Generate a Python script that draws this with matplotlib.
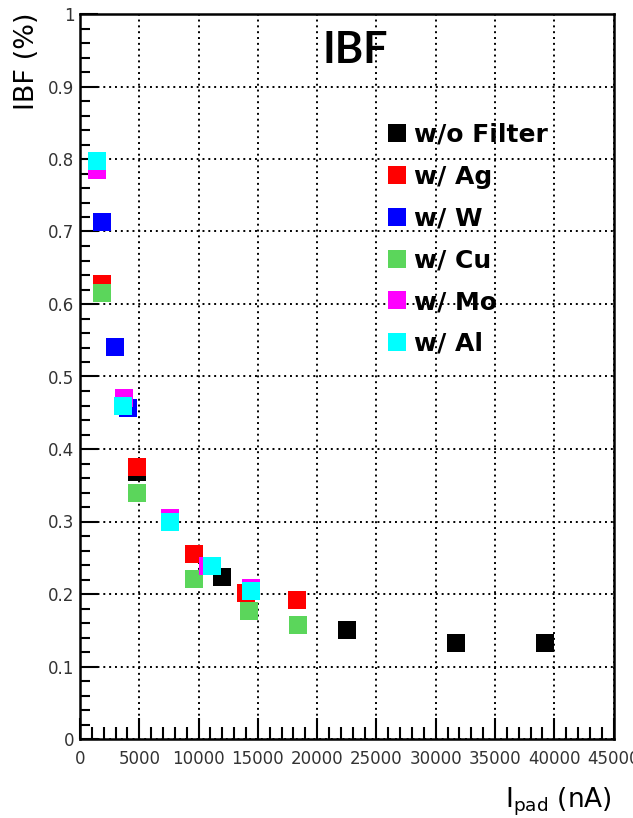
import matplotlib
matplotlib.use("Agg")
import matplotlib.pyplot as plt
from matplotlib.ticker import MultipleLocator, FuncFormatter

# IBF (%) versus pad current, for each X-ray filter
series_names = ["w/o Filter", "w/ Ag", "w/ W", "w/ Cu", "w/ Mo", "w/ Al"]
series_colors = ["#000000", "#ff0000", "#0000ff", "#5bd65b", "#ff00ff", "#00ffff"]

nofilter_x = [4810, 11980, 22520, 31720, 39200]
nofilter_y = [0.368, 0.223, 0.150, 0.133, 0.133]

ag_x = [1860, 4810, 9620, 14000, 18300]
ag_y = [0.627, 0.375, 0.255, 0.202, 0.192]

w_x = [1860, 2950, 4050]
w_y = [0.713, 0.541, 0.456]

cu_x = [1860, 4810, 9620, 14260, 18390]
cu_y = [0.615, 0.340, 0.221, 0.177, 0.157]

mo_x = [1430, 3710, 7590, 10800, 14420]
mo_y = [0.785, 0.470, 0.305, 0.238, 0.208]

al_x = [1430, 3630, 7590, 11130, 14420]
al_y = [0.797, 0.460, 0.300, 0.239, 0.204]

all_x = [nofilter_x, ag_x, w_x, cu_x, mo_x, al_x]
all_y = [nofilter_y, ag_y, w_y, cu_y, mo_y, al_y]

W, H = 633, 818
fig = plt.figure(figsize=(W / 100, H / 100), dpi=100)
ax = fig.add_axes([80 / W, 1 - 739 / H, (613.5 - 80) / W, (739 - 14) / H])

for xs, ys, name, col in zip(all_x, all_y, series_names, series_colors):
    ax.plot(xs, ys, ls="none", marker="s", ms=13, mew=0, color=col, label=name)

ax.set_xlim(0, 45000)
ax.set_ylim(0, 1)

ax.xaxis.set_major_locator(MultipleLocator(5000))
ax.xaxis.set_minor_locator(MultipleLocator(1000))
ax.yaxis.set_major_locator(MultipleLocator(0.1))
ax.yaxis.set_minor_locator(MultipleLocator(0.02))
ax.xaxis.set_major_formatter(FuncFormatter(lambda v, p: "%g" % v))
ax.yaxis.set_major_formatter(FuncFormatter(lambda v, p: "%g" % round(v, 2)))

ax.tick_params(axis="both", which="both", direction="in", width=1.5,
               colors="black", labelcolor="#333333", labelsize=12)
ax.tick_params(axis="x", which="major", length=15, pad=8)
ax.tick_params(axis="x", which="minor", length=8.6)
ax.tick_params(axis="y", which="major", length=13, pad=4)
ax.tick_params(axis="y", which="minor", length=7.2)

for sp in ax.spines.values():
    sp.set_linewidth(1.8)

ax.grid(True, which="major", color="black", linestyle=(0, (1, 2)), linewidth=1.4)
ax.set_axisbelow(True)

leg = ax.legend(loc="upper left", bbox_to_anchor=(387 / W, 1 - 123 / H),
                bbox_transform=fig.transFigure, frameon=False,
                prop={"weight": "bold", "size": 18}, handlelength=0.8,
                handletextpad=0.3, labelspacing=0.71, borderpad=0,
                borderaxespad=0, numpoints=1)

fig.text(355 / W, 1 - 62.7 / H, "IBF", ha="center", va="baseline",
         fontsize=31, fontweight="bold", family="Lato")
fig.text(27 / W, 1 - 12 / H, "IBF (%)", rotation=90, ha="center", va="top",
         fontsize=19.5)
fig.text(612 / W, 1 - 808 / H, r"I$_{\mathrm{pad}}$ (nA)", ha="right",
         va="baseline", fontsize=19)

fig.savefig("out.png", dpi=100)
